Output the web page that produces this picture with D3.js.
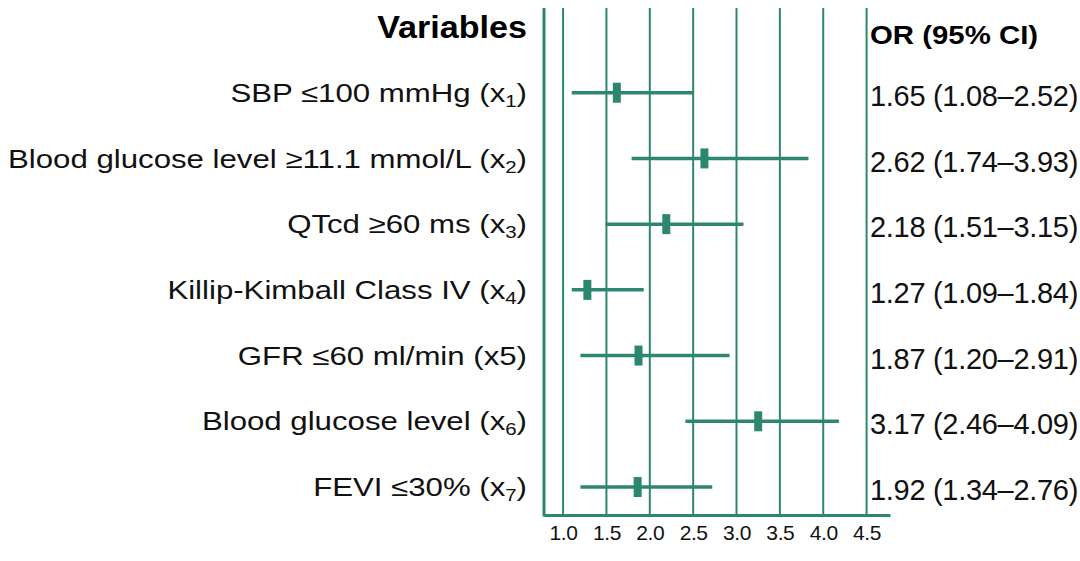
<!DOCTYPE html>
<html>
<head>
<meta charset="utf-8">
<script src="https://cdn.jsdelivr.net/npm/d3@7"></script>
<style>
  body { margin: 0; background: #fff; }
  svg { display: block; font-family: "Liberation Sans", Arial, sans-serif; }
</style>
</head>
<body>
<svg></svg>
<script>
// variable names, split so the subscript index can go in a tspan
const labels = [
  ["SBP \u2264100 mmHg (x", "1", ")"],
  ["Blood glucose level \u226511.1 mmol/L (x", "2", ")"],
  ["QTcd \u226560 ms (x", "3", ")"],
  ["Killip-Kimball Class IV (x", "4", ")"],
  ["GFR \u226460 ml/min (x5)", "", ""],
  ["Blood glucose level (x", "6", ")"],
  ["FEVI \u226430% (x", "7", ")"]
];
// drawn positions
const orPoint = [1.62, 2.63, 2.19, 1.28, 1.87, 3.25, 1.86];
const ciLow   = [1.10, 1.79, 1.49, 1.10, 1.20, 2.41, 1.20];
const ciHigh  = [2.50, 3.83, 3.08, 1.93, 2.92, 4.18, 2.72];
// printed text column
const orText = [
  "1.65 (1.08\u20132.52)",
  "2.62 (1.74\u20133.93)",
  "2.18 (1.51\u20133.15)",
  "1.27 (1.09\u20131.84)",
  "1.87 (1.20\u20132.91)",
  "3.17 (2.46\u20134.09)",
  "1.92 (1.34\u20132.76)"
];
const ticks = [1.0, 1.5, 2.0, 2.5, 3.0, 3.5, 4.0, 4.5];

const width = 1080, height = 561;
const green = "#2d8770";
const svg = d3.select("svg").attr("width", width).attr("height", height);

const x = d3.scaleLinear().domain([0.78, 4.77]).range([544, 890]);
const y = d3.scalePoint()
    .domain(d3.range(-1, labels.length))
    .range([27, 487]);
const plotTop = 8, plotBottom = 515;

// vertical grid lines
svg.append("g")
    .selectAll("line")
    .data(ticks)
    .enter()
    .append("line")
    .attr("x1", d => x(d)).attr("x2", d => x(d))
    .attr("y1", plotTop).attr("y2", plotBottom)
    .attr("stroke", green)
    .attr("stroke-width", 2);

// left line
svg.append("line")
    .attr("x1", x(0.78)).attr("x2", x(0.78))
    .attr("y1", plotTop).attr("y2", plotBottom + 1.5)
    .attr("stroke", green).attr("stroke-width", 3);

// bottom axis
const axis = svg.append("g")
    .attr("transform", `translate(0,${plotBottom})`)
    .call(d3.axisBottom(x).tickValues(ticks).tickFormat(d3.format(".1f")).tickSize(0).tickPadding(10));
axis.select(".domain").attr("stroke", green).attr("stroke-width", 3);
axis.selectAll("text")
    .attr("fill", "#111")
    .style("font-size", "21px")
    .style("letter-spacing", "-0.4px")
    .style("font-family", "'Liberation Sans', Arial, sans-serif");

// CI lines
const rows = svg.append("g");
rows.selectAll("line")
    .data(orPoint)
    .enter()
    .append("line")
    .attr("x1", (d, i) => x(ciLow[i]))
    .attr("x2", (d, i) => x(ciHigh[i]))
    .attr("y1", (d, i) => y(i)).attr("y2", (d, i) => y(i))
    .attr("stroke", green)
    .attr("stroke-width", 3.5);

// point markers
rows.selectAll("rect")
    .data(orPoint)
    .enter()
    .append("rect")
    .attr("x", d => x(d) - 4)
    .attr("y", (d, i) => y(i) - 10)
    .attr("width", 8)
    .attr("height", 20)
    .attr("fill", green);

// headers (text in the source is a bit stretched sideways)
svg.append("text")
    .attr("transform", `translate(527,${y(-1)}) scale(1.1,1)`)
    .attr("dy", "0.35em")
    .attr("text-anchor", "end")
    .attr("font-weight", "bold")
    .attr("font-size", 31)
    .text("Variables");

svg.append("text")
    .attr("transform", `translate(870,${y(-1) + 8}) scale(1.13,1)`)
    .attr("dy", "0.35em")
    .attr("font-weight", "bold")
    .attr("font-size", 26)
    .text("OR (95% CI)");

// variable labels
const lab = svg.append("g")
    .selectAll("text")
    .data(labels)
    .enter()
    .append("text")
    .attr("transform", (d, i) => `translate(527,${y(i)}) scale(1.2,1)`)
    .attr("dy", "0.35em")
    .attr("text-anchor", "end")
    .attr("font-size", 26)
    .attr("fill", "#111");
lab.append("tspan").text(d => d[0]);
lab.append("tspan")
    .attr("font-size", 17)
    .attr("dy", 5)
    .text(d => d[1]);
lab.append("tspan")
    .attr("dy", d => d[1] ? -5 : 0)
    .text(d => d[2]);

// OR column
svg.append("g")
    .selectAll("text")
    .data(orText)
    .enter()
    .append("text")
    .attr("x", 870)
    .attr("y", (d, i) => y(i) + 3)
    .attr("dy", "0.35em")
    .attr("font-size", 29)
    .attr("letter-spacing", "-0.3px")
    .attr("fill", "#111")
    .text(d => d);
</script>
</body>
</html>
